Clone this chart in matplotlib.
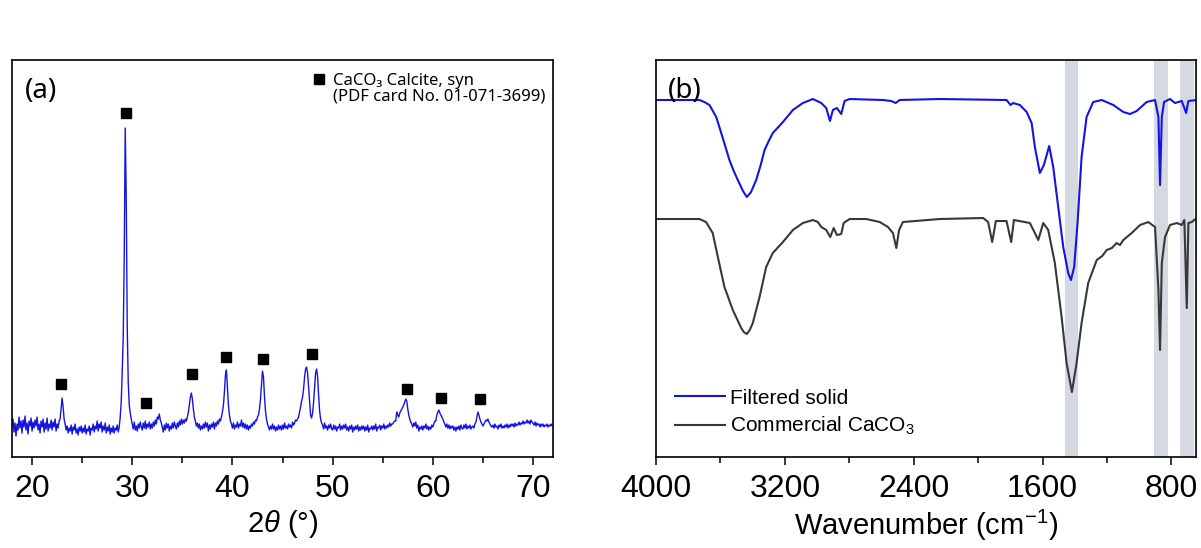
import matplotlib
matplotlib.use('Agg')
import numpy as np
import matplotlib.pyplot as plt
from matplotlib.lines import Line2D
from matplotlib.ticker import MultipleLocator

plt.rcParams['font.family'] = ['Liberation Sans', 'DejaVu Sans']
plt.rcParams['mathtext.fontset'] = 'custom'
plt.rcParams['mathtext.rm'] = 'Liberation Sans'
plt.rcParams['mathtext.it'] = 'Liberation Sans:italic'

# (a) XRD scan: 18.0 - 72.0 deg in 0.1 deg steps, intensity (a.u.)
scan_start, scan_step = 18.0, 0.1
intensity = [
    30, 38, 25, 34, 21, 33, 27, 40, 29, 36,   # 18
    24, 37, 30, 41, 27, 34, 23, 36, 31, 39,   # 19
    26, 35, 29, 37, 31, 40, 27, 33, 24, 36,   # 20
    30, 38, 25, 34, 28, 39, 26, 33, 29, 37,   # 21
    27, 35, 30, 38, 26, 33, 29, 36, 38, 48,   # 22
    59, 50, 38, 33, 27, 31, 24, 29, 26, 32,   # 23
    23, 30, 27, 33, 24, 28, 22, 30, 26, 31,   # 24
    24, 29, 25, 32, 23, 28, 26, 31, 22, 29,   # 25
    27, 33, 25, 31, 28, 36, 26, 33, 29, 35,   # 26
    25, 31, 27, 34, 24, 30, 26, 32, 23, 29,   # 27
    25, 31, 24, 29, 27, 32, 25, 30, 40, 55,   # 28
    85, 120, 200, 329, 260, 130, 75, 52, 44, 38,   # 29
    33, 28, 35, 27, 31, 26, 33, 29, 35, 30,   # 30
    27, 34, 29, 36, 28, 33, 30, 35, 28, 33,   # 31
    29, 35, 31, 37, 33, 40, 38, 43, 37, 34,   # 32
    30, 25, 32, 27, 34, 29, 33, 26, 31, 28,   # 33
    34, 29, 35, 31, 28, 34, 30, 36, 32, 38,   # 34
    33, 37, 34, 38, 36, 40, 45, 52, 60, 64,   # 35
    58, 48, 40, 36, 31, 34, 29, 33, 27, 31,   # 36
    28, 33, 29, 35, 30, 34, 26, 32, 28, 33,   # 37
    30, 35, 28, 34, 31, 36, 33, 38, 36, 40,   # 38
    45, 52, 65, 82, 87, 70, 52, 42, 36, 33,   # 39
    29, 34, 28, 32, 30, 35, 29, 33, 31, 37,   # 40
    30, 34, 29, 33, 28, 32, 27, 31, 29, 33,   # 41
    31, 35, 33, 37, 36, 40, 42, 48, 58, 72,   # 42
    86, 80, 60, 46, 38, 33, 30, 27, 31, 28,   # 43
    33, 28, 31, 26, 30, 27, 32, 28, 31, 27,   # 44
    32, 28, 34, 29, 31, 28, 33, 30, 32, 29,   # 45
    35, 32, 34, 37, 36, 38, 40, 45, 50, 56,   # 46
    60, 68, 80, 88, 90, 84, 70, 55, 42, 39,   # 47
    44, 55, 70, 84, 88, 80, 62, 46, 38, 34,   # 48
    32, 28, 34, 29, 31, 27, 32, 29, 33, 28,   # 49
    27, 32, 28, 31, 26, 30, 29, 33, 27, 31,   # 50
    28, 32, 29, 33, 27, 30, 26, 31, 28, 32,   # 51
    25, 30, 27, 31, 28, 32, 26, 30, 27, 31,   # 52
    28, 31, 26, 30, 27, 32, 25, 29, 28, 31,   # 53
    27, 31, 28, 33, 26, 30, 29, 32, 27, 31,   # 54
    29, 33, 28, 31, 29, 32, 30, 34, 31, 33,   # 55
    33, 35, 36, 36, 45, 42, 40, 44, 46, 48,   # 56
    50, 52, 55, 58, 56, 48, 42, 38, 35, 33,   # 57
    30, 34, 31, 35, 29, 32, 26, 30, 28, 31,   # 58
    27, 31, 29, 33, 28, 31, 27, 30, 28, 32,   # 59
    30, 33, 36, 36, 42, 45, 47, 44, 42, 40,   # 60
    38, 35, 33, 30, 33, 29, 32, 28, 31, 29,   # 61
    31, 27, 30, 26, 30, 28, 31, 27, 32, 29,   # 62
    28, 32, 29, 33, 28, 31, 29, 32, 28, 30,   # 63
    31, 29, 33, 35, 40, 45, 42, 38, 35, 33,   # 64
    31, 33, 35, 37, 36, 38, 35, 33, 31, 30,   # 65
    32, 29, 33, 30, 31, 28, 32, 30, 33, 29,   # 66
    31, 29, 32, 30, 33, 29, 32, 30, 33, 31,   # 67
    33, 30, 34, 31, 33, 32, 35, 32, 34, 33,   # 68
    36, 33, 35, 34, 37, 34, 36, 33, 37, 35,   # 69
    34, 32, 35, 31, 34, 32, 33, 30, 33, 31,   # 70
    33, 30, 32, 31, 33, 30, 32, 31, 33, 31,   # 71
    31]
two_theta = scan_start + scan_step * np.arange(len(intensity))

# calcite reflections marked with squares
calcite_2theta = [22.9, 29.35, 31.4, 35.95, 39.4, 43.05, 47.95, 57.4, 60.8, 64.7]
calcite_mark = [73, 344, 54, 83, 100, 98, 103, 68, 59, 58]

# (b) FT-IR spectra, transmittance in arbitrary units
wn_filtered = [4000, 3730, 3700, 3668, 3626, 3595, 3544, 3520, 3492, 3460, 3436, 3410, 3378, 3350,
               3326, 3300, 3275, 3240, 3212, 3150, 3088,
               3026, 2974, 2943, 2920, 2902, 2877, 2850, 2829, 2798, 2591, 2539, 2512, 2487, 2239,
               1824, 1799, 1783, 1741, 1699, 1668, 1648, 1617, 1592, 1559, 1534, 1503, 1472, 1441,
               1424, 1404, 1383, 1358, 1327, 1286, 1233, 1161, 1099, 1057, 1016, 954, 902, 881, 871,
               860, 846, 809, 778, 736, 709, 695, 643]
t_filtered = [357, 357, 355, 352, 340, 324, 297, 287, 277, 266, 260, 265, 277, 292,
              307, 316, 324, 330, 335, 347, 354,
              358, 354, 349, 336, 347, 349, 343, 356, 358, 357, 356, 354, 357, 358,
              357, 352, 354, 352, 345, 334, 310, 284, 292, 311, 290, 250, 210, 184,
              177, 190, 234, 300, 340, 355, 357, 352, 345, 343, 346, 355, 357, 340, 272,
              340, 355, 358, 354, 356, 344, 356, 357]

wn_commercial = [4000, 3730, 3689, 3648, 3616, 3575, 3523, 3471, 3455, 3436, 3418, 3399, 3357, 3316,
                 3275, 3212,
                 3150, 3088, 3026, 2995, 2974, 2943, 2918, 2897, 2877, 2850, 2835, 2798, 2694, 2611,
                 2560, 2529, 2508, 2491, 2467, 2239, 1969, 1938, 1913, 1890, 1824, 1795, 1778, 1679,
                 1648, 1627, 1596, 1565, 1524, 1482, 1451, 1418, 1389, 1358, 1317, 1264, 1230, 1202,
                 1170, 1140, 1120, 1099, 1047, 995, 944, 902, 881, 871, 860, 840, 809, 767, 736, 720,
                 705, 695, 674, 643]
t_commercial = [238, 238, 235, 224, 200, 170, 147, 129, 125, 123, 127, 134, 160, 190,
                204, 215,
                227, 234, 237, 235, 230, 227, 220, 229, 222, 223, 234, 238, 238, 235,
                230, 224, 209, 227, 235, 238, 239, 235, 215, 236, 236, 215, 237, 234,
                224, 217, 234, 227, 194, 140, 94, 65, 94, 134, 174, 197, 201, 207,
                209, 214, 212, 217, 224, 232, 235, 230, 167, 107, 194, 220, 232, 234, 232, 237,
                149, 234, 235, 239]

# shaded carbonate bands (cm-1)
band_lo = [1383, 823, 660]
band_hi = [1463, 908, 746]

blue = '#1414e0'
grey = '#383838'
label_font = ['Noto Sans', 'DejaVu Sans']

fig = plt.figure(figsize=(12.01, 5.48), dpi=100)
ax1 = fig.add_axes([0.010, 0.166, 0.4505, 0.7245])
ax2 = fig.add_axes([0.5462, 0.166, 0.4496, 0.7245])

# ---- (a) XRD ----
ax1.plot(two_theta, intensity, color=blue, lw=1.0)
ax1.plot(calcite_2theta, calcite_mark, 's', color='black', ms=6.5, ls='none')
ax1.set_xlim(18, 72)
ax1.set_ylim(0, 397)
ax1.set_yticks([])
ax1.xaxis.set_major_locator(MultipleLocator(10))
ax1.xaxis.set_minor_locator(MultipleLocator(5))
ax1.set_xlabel('2$\\mathit{θ}$ (°)', fontsize=21, labelpad=3)
ax1.text(0.024, 0.957, '(a)', transform=ax1.transAxes, fontsize=20,
         family=label_font, va='top', ha='left')

h_sq = Line2D([], [], marker='s', color='black', ls='none', ms=7.5)
h_blank = Line2D([], [], ls='none')
ax1.legend([h_sq, h_blank], ['CaCO₃ Calcite, syn', '(PDF card No. 01-071-3699)'],
           loc='upper right', bbox_to_anchor=(0.985, 0.968), frameon=False,
           borderpad=0, borderaxespad=0, handlelength=0.7, handletextpad=0.45,
           labelspacing=0.0, prop={'family': label_font, 'size': 12})

# ---- (b) FT-IR ----
for lo, hi in zip(band_lo, band_hi):
    ax2.axvspan(lo, hi, color='#d4d9e2', lw=0, zorder=0)
ax2.plot(wn_filtered, t_filtered, color=blue, lw=1.5, label='Filtered solid')
ax2.plot(wn_commercial, t_commercial, color=grey, lw=1.5, label='Commercial CaCO$_3$')
ax2.set_xlim(4000, 648)
ax2.set_ylim(0, 397)
ax2.set_yticks([])
ax2.set_xticks([4000, 3200, 2400, 1600, 800])
ax2.xaxis.set_minor_locator(MultipleLocator(400))
ax2.set_xlabel('Wavenumber (cm$^{-1}$)', fontsize=21, labelpad=3)
ax2.text(0.022, 0.957, '(b)', transform=ax2.transAxes, fontsize=20,
         family=label_font, va='top', ha='left')
ax2.legend(loc='lower left', bbox_to_anchor=(0.035, 0.05), frameon=False, fontsize=15,
           borderpad=0, borderaxespad=0, handlelength=2.4, handletextpad=0.25, labelspacing=0.35)

for ax in (ax1, ax2):
    ax.tick_params(axis='x', which='major', direction='out', length=6, width=1.1, labelsize=23, pad=6)
    ax.tick_params(axis='x', which='minor', direction='out', length=4, width=1.1)
    for s in ax.spines.values():
        s.set_linewidth(1.2)

fig.savefig('out.png', dpi=100, facecolor='white')
